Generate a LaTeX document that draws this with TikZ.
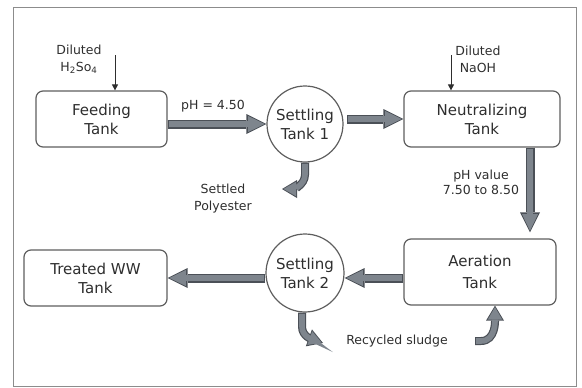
\documentclass[tikz,border=0pt]{standalone}
\usepackage{fontspec}
\setmainfont{DejaVu Sans}
\usepackage{tikz}
\usetikzlibrary{arrows.meta}
\definecolor{Frame}{HTML}{8C8C8C}
\definecolor{Edge}{HTML}{5E5E5E}
\definecolor{Ink}{HTML}{2E2E2E}
\definecolor{PipeFill}{HTML}{7E858D}
\definecolor{PipeEdge}{HTML}{4B5057}

\begin{document}
\begin{tikzpicture}[
  x=1pt, y=1pt,
  box/.style={
    draw=Edge, rounded corners=7pt, line width=1.2pt, fill=white, text=Ink,
    align=center, font=\fontsize{15}{19}\selectfont, inner sep=0pt
  },
  tank/.style={
    circle, draw=Edge, line width=1.2pt, fill=white, text=Ink,
    align=center, font=\fontsize{15}{19}\selectfont, inner sep=0pt
  },
  note/.style={text=Ink, align=center, font=\fontsize{12.5}{17}\selectfont, inner sep=0pt},
  pipe/.style={
    line width=9pt, draw=PipeEdge, -{Triangle[length=20pt,width=20pt,line width=0pt]},
    postaction={draw=PipeFill, line width=6.6pt,
      -{Triangle[length=16.5pt,width=16pt,line width=0pt]}, shorten >=1.8pt, shorten <=1.2pt}
  },
  curl/.style={
    line width=8pt, draw=PipeEdge, -{Triangle[length=15pt,width=18pt,line width=0pt]},
    postaction={draw=PipeFill, line width=5.6pt,
      -{Triangle[length=12.5pt,width=14.5pt,line width=0pt]}, shorten >=1.6pt, shorten <=1.2pt}
  },
  dose/.style={-{Triangle[length=6pt,width=6pt]}, line width=0.8pt, draw=Ink}
]
\useasboundingbox (0,0) rectangle (582,-388);
\draw[Frame, line width=1pt] (13,-7) rectangle (576,-386);

\node[box, minimum width=131pt, minimum height=56pt] (feed) at (101.5,-119) {Feeding\\Tank};
\node[tank, minimum size=76pt] (st1) at (305,-124) {Settling\\Tank 1};
\node[box, minimum width=156pt, minimum height=56pt] (neut) at (482,-119) {Neutralizing\\Tank};
\node[box, minimum width=152pt, minimum height=66pt] (aer) at (480,-272) {Aeration\\[3pt]Tank};
\node[tank, minimum size=78pt] (st2) at (305,-273) {Settling\\Tank 2};
\node[box, minimum width=143pt, minimum height=56pt] (treat) at (95.5,-278) {Treated WW\\Tank};

\node[note] (acid) at (79,-59) {Diluted\\H\textsubscript{2}So\textsubscript{4}};
\node[note] (base) at (478,-59) {Diluted\\NaOH};
\node[note] (ph1) at (213,-106) {pH = 4.50};
\node[note] (poly) at (223,-199) {Settled\\Polyester};
\node[note] (ph2) at (481,-182) {pH value\\[-2pt]7.50 to 8.50};
\node[note] (sludge) at (397,-341) {Recycled sludge};

\coordinate (acidin) at (115,-55);
\coordinate (basein) at (451,-55);
\coordinate (st1out) at (347,-119);
\coordinate (polyout) at (282,-189);
\coordinate (sludgeout) at (323,-343);
\coordinate (sludgein) at (475,-341);

% chemical dosing
\draw[dose] (acidin) -- (acidin |- feed.north);
\draw[dose] (basein) -- (basein |- neut.north);

% main flow
\draw[pipe] (feed.east |- st1) -- (st1.west);
\draw[pipe] (st1out) -- (st1out -| neut.west);
\draw[pipe] ([xshift=48pt]neut.south) -- ([xshift=50pt,yshift=6pt]aer.north);
\draw[pipe] (aer.west |- treat.east) -- (st2.east |- treat.east);
\draw[pipe] (st2.west |- treat.east) -- (treat.east);

% sludge
\draw[curl] (st1.south) -- ++(0,-12) to[out=-90,in=0] (polyout);
\draw[curl] ([xshift=-3pt]st2.south) -- ++(0,-14) to[out=-90,in=160] (sludgeout);
\draw[curl] (sludgein) -- ++(6,0) to[out=0,in=-90] ([xshift=15pt]aer.south);
\end{tikzpicture}
\end{document}
